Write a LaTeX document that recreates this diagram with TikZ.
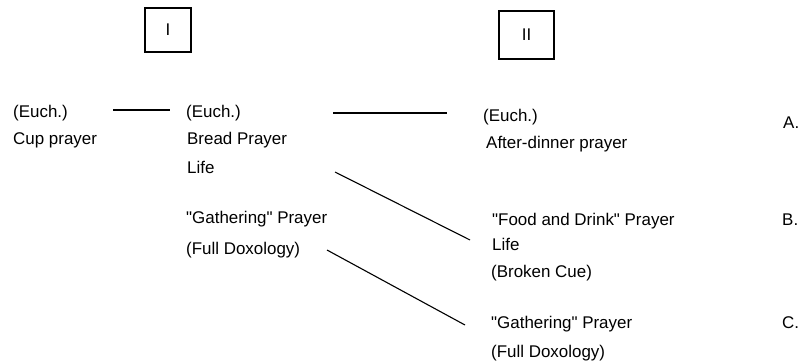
\documentclass[tikz,border=0pt]{standalone}
\usepackage{fontspec}
\setmainfont{Liberation Sans}
\newcommand{\dq}{\textquotedbl}
\begin{document}
\begin{tikzpicture}[x=1bp,y=-1bp,
  txt/.style={anchor=base west,inner sep=0pt,font=\fontsize{17}{20}\selectfont},
  numbox/.style={draw,line width=1.3bp,minimum width=46bp,minimum height=44bp,inner sep=0pt,font=\fontsize{17}{20}\selectfont},
  link/.style={line width=1.1bp}]
\useasboundingbox (0,0) rectangle (799,360);
% column boxes
\node[numbox] (boxI) at (168,30) {I};
\node[numbox,minimum width=55bp,minimum height=48bp] (boxII) at (526.5,35) {II};
% column 0
\node[txt] (cup1) at (13,117) {(Euch.)};
\node[txt] (cup2) at (13,144) {Cup prayer};
% column I
\node[txt] (bread1) at (186,117) {(Euch.)};
\node[txt] (bread2) at (187,144) {Bread Prayer};
\node[txt] (bread3) at (187,173) {Life};
\node[txt] (gathI1) at (186,223) {\dq Gathering\dq{} Prayer};
\node[txt] (gathI2) at (186,254) {(Full Doxology)};
% column II
\node[txt] (after1) at (483,121) {(Euch.)};
\node[txt] (after2) at (486,148) {After-dinner prayer};
\node[txt] (food1) at (492,225) {\dq Food and Drink\dq{} Prayer};
\node[txt] (food2) at (492,250) {Life};
\node[txt] (food3) at (491,277) {(Broken Cue)};
\node[txt] (gathII1) at (491,328) {\dq Gathering\dq{} Prayer};
\node[txt] (gathII2) at (491,357) {(Full Doxology)};
% letters
\node[txt] (la) at (783,128) {A.};
\node[txt] (lb) at (782,225) {B.};
\node[txt] (lc) at (782,328) {C.};
% connector ends
\coordinate (c1a) at (113,110);
\coordinate (c1b) at (170,110);
\coordinate (c2a) at (333,113);
\coordinate (c2b) at (447,113);
\coordinate (c3a) at (335,172);
\coordinate (c3b) at (470,240);
\coordinate (c4a) at (327,250);
\coordinate (c4b) at (465,325);
\draw[link] (c1a) -- (c1b);
\draw[link] (c2a) -- (c2b);
\draw[link] (c3a) -- (c3b);
\draw[link] (c4a) -- (c4b);
\end{tikzpicture}
\end{document}
